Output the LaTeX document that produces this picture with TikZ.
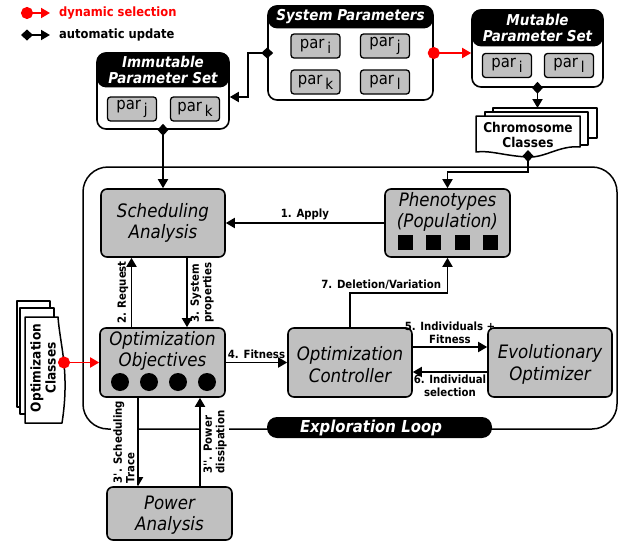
\documentclass[tikz,border=0pt]{standalone}
\usepackage{fontspec}
\setmainfont{DejaVu Sans Condensed}[ItalicFont={DejaVu Sans Condensed Oblique},BoldFont={DejaVu Sans Condensed Bold},BoldItalicFont={DejaVu Sans Condensed Bold Oblique}]
\usetikzlibrary{arrows.meta,calc}

\newcommand{\parsub}[1]{par\,\raisebox{-5pt}{\fontsize{15}{15}\selectfont #1}}

\begin{document}
\begin{tikzpicture}[x=1pt,y=-1pt,
  block/.style={draw,line width=1.6pt,fill=boxGray,rounded corners=6pt,minimum width=124pt,minimum height=68pt,inner sep=0pt},
  boxtitle/.style={font=\fontsize{18.5}{21.5}\selectfont\itshape,align=center,inner sep=0pt},
  panel/.style={draw,line width=1.6pt,fill=white,rounded corners=9pt,inner sep=0pt},
  head/.style={fill=black,text=white,rounded corners=9pt,inner sep=0pt,align=center,font=\fontsize{15}{15.5}\selectfont\bfseries\itshape},
  parbox/.style={draw,line width=1.3pt,fill=boxGray,rounded corners=3pt,minimum width=49pt,minimum height=24pt,inner sep=0pt,font=\fontsize{16.5}{16.5}\selectfont},
  lbl/.style={font=\fontsize{11.3}{12.5}\selectfont\bfseries,inner sep=2.5pt},
  legtxt/.style={font=\fontsize{12.8}{14}\selectfont\bfseries,inner sep=0pt,anchor=west},
  flow/.style={line width=1.8pt,-{Triangle[length=9pt,width=10pt]}},
  autoarr/.style={line width=1.8pt,{Diamond[length=12pt,width=11pt]}-{Triangle[length=9pt,width=10pt]},shorten <=-6pt},
  dynarr/.style={draw=red,line width=1.8pt,{Circle[length=12pt]}-{Triangle[length=9pt,width=10pt]},shorten <=-6pt},
  docsheet/.style={draw,line width=1.5pt,fill=white,line join=round},
  doctext/.style={font=\fontsize{13.5}{15}\selectfont\bfseries,align=center,inner sep=0pt},
  loopframe/.style={draw,line width=1.5pt,rounded corners=25pt,minimum width=534pt,minimum height=262pt,inner sep=0pt},
  loopbox/.style={fill=black,text=white,rounded corners=10pt,text width=159pt,align=left,inner xsep=33pt,minimum height=21pt,inner ysep=0pt,font=\fontsize{16.5}{16.5}\selectfont\bfseries\itshape},
  popsq/.style={fill=black,minimum size=15pt,inner sep=0pt},
  objdot/.style={circle,fill=black,minimum size=18pt,inner sep=0pt}]
\definecolor{boxGray}{RGB}{192,192,192}
\useasboundingbox (0,0) rectangle (622,541);

\coordinate (dynA) at (27,13);
\coordinate (dynB) at (50,13);
\coordinate (autA) at (27,35);
\coordinate (autB) at (50,35);
\draw[dynarr] (dynA) -- (dynB);
\draw[autoarr] (autA) -- (autB);
\node[legtxt,text=red] (dyntxt) at (59,13) {dynamic selection};
\node[legtxt] (auttxt) at (59,35) {automatic update};

\node[loopframe] (loop) at (350,298) {};

\node[panel,minimum width=165pt,minimum height=94pt] (sys) at (350.5,53) {};
\node[head,minimum width=165pt,minimum height=23pt,anchor=north] (syshead) at (sys.north) {System Parameters};
\node[parbox] (sysi) at (315.5,46) {\parsub{i}};
\node[parbox] (sysj) at (385,46) {\parsub{j}};
\node[parbox] (sysk) at (315.5,82) {\parsub{k}};
\node[parbox] (sysl) at (385,82) {\parsub{l}};

\node[panel,minimum width=131pt,minimum height=77pt] (mut) at (537.5,48.5) {};
\node[head,minimum width=131pt,minimum height=37pt,anchor=north] (muthead) at (mut.north) {Mutable\\Parameter Set};
\node[parbox] (muti) at (507,65.5) {\parsub{i}};
\node[parbox] (mutl) at (569,65.5) {\parsub{l}};

\node[panel,minimum width=132pt,minimum height=76pt] (immut) at (163,91) {};
\node[head,minimum width=132pt,minimum height=35pt,anchor=north] (immuthead) at (immut.north) {Immutable\\Parameter Set};
\node[parbox] (immutj) at (132,109) {\parsub{j}};
\node[parbox] (immutk) at (195,109) {\parsub{k}};

\filldraw[docsheet] (493,108) rectangle (597,138);
\filldraw[docsheet] (485,112) rectangle (588,145);
\filldraw[docsheet] (476,116) -- (580,116) -- (580,147) .. controls (560,145) and (545,158) .. (528,157) .. controls (505,156) and (490,150) .. (476,152) -- cycle;
\node[doctext] (chrom) at (528,135) {Chromosome\\Classes};
\coordinate (chromtop) at (537.5,108);
\coordinate (chrombot) at (528,156);

\filldraw[docsheet] (17,301) rectangle (50,407);
\filldraw[docsheet] (20,308) rectangle (54,414);
\filldraw[docsheet] (25,317) -- (58,317) .. controls (60,345) and (70,372) .. (62,423) -- (25,423) -- cycle;
\node[doctext,rotate=90] (optcls) at (43,368) {Optimization\\Classes};
\coordinate (optclsdot) at (64,362.5);

\node[block] (sched) at (163,223) {};
\node[boxtitle] (schedtxt) at (sched.center) {Scheduling\\Analysis};

\node[block,minimum width=125pt] (pheno) at (447.5,223) {};
\node[boxtitle] (phenotxt) at ([yshift=11pt]pheno.center) {Phenotypes\\(Population)};
\foreach \i in {0,...,3}
  \node[popsq] (pop\i) at ([xshift=-42.5pt+\i*28.5pt,yshift=-19.5pt]pheno.center) {};

\node[block,minimum width=125pt,minimum height=69pt] (optobj) at (162.5,362.5) {};
\node[boxtitle] (optobjtxt) at ([yshift=11.5pt]optobj.center) {Optimization\\Objectives};
\foreach \i in {0,...,3}
  \node[objdot] (obj\i) at ([xshift=-42.5pt+\i*29pt,yshift=-19.5pt]optobj.center) {};

\node[block,minimum height=69pt] (optctrl) at (350,362.5) {};
\node[boxtitle] (optctrltxt) at ([yshift=-2pt]optctrl.center) {Optimization\\Controller};

\node[block,minimum height=69pt] (evo) at (550,362.5) {};
\node[boxtitle] (evotxt) at ([yshift=-2pt]evo.center) {Evolutionary\\Optimizer};

\node[block,minimum width=125pt,minimum height=53pt] (power) at (169.5,513.5) {};
\node[boxtitle] (powertxt) at ([yshift=-1.5pt]power.center) {Power\\Analysis};

\draw[dynarr] (sys.east) -- (sys.east -| mut.west);
\draw[autoarr] (sys.west) -- ++(-19,0) |- ([yshift=-6pt]immut.east);
\draw[autoarr] (immut.south) -- (sched.north);
\draw[autoarr] (mut.south) -- (chromtop);
\draw[autoarr] (chrombot) -- ++(0,16) -| (pheno.north);
\draw[dynarr] (optclsdot) -- (optobj.west);

\draw[flow] (pheno.west) -- (sched.east) node[midway,above,lbl] {1. Apply};
\draw[flow] ([xshift=-31pt]optobj.north) -- ([xshift=-31pt]optobj.north |- sched.south)
  node[midway,rotate=90,anchor=south,lbl] {2. Request};
\draw[flow] ([xshift=24pt]sched.south) -- ([xshift=24pt]sched.south |- optobj.north)
  node[midway,rotate=90,anchor=north,lbl,align=left] {3. System\\properties};
\draw[flow] (optobj.east) -- (optctrl.west) node[midway,above,lbl] {4. Fitness};
\draw[flow] ([yshift=15.5pt]optctrl.east) -- ([yshift=15.5pt]evo.west)
  node[midway,above,lbl,align=center] {5. Individuals +\\Fitness};
\draw[flow] ([yshift=-9.5pt]evo.west) -- ([yshift=-9.5pt]optctrl.east)
  node[midway,below,lbl,align=center] {6. Individual\\selection};
\coordinate (bend7) at ($(pheno.south)+(0,35)$);
\draw[flow] (optctrl.north) |- (bend7) node[pos=0.66,above,lbl] {7. Deletion/Variation} -- (pheno.south);

\draw[flow] ([xshift=-24.5pt]optobj.south) -- ([xshift=-24.5pt]optobj.south |- power.north)
  node[midway,rotate=90,anchor=south,lbl,fill=white,align=left] {3\textquotesingle. Scheduling\\Trace};
\draw[flow] ([xshift=30.5pt]power.north) -- ([xshift=30.5pt]power.north |- optobj.south)
  node[midway,rotate=90,anchor=north,lbl,fill=white,align=left] {3\textquotesingle\textquotesingle. Power\\dissipation};

\node[loopbox] (looplbl) at (379.5,427.5) {Exploration Loop};
\end{tikzpicture}
\end{document}
